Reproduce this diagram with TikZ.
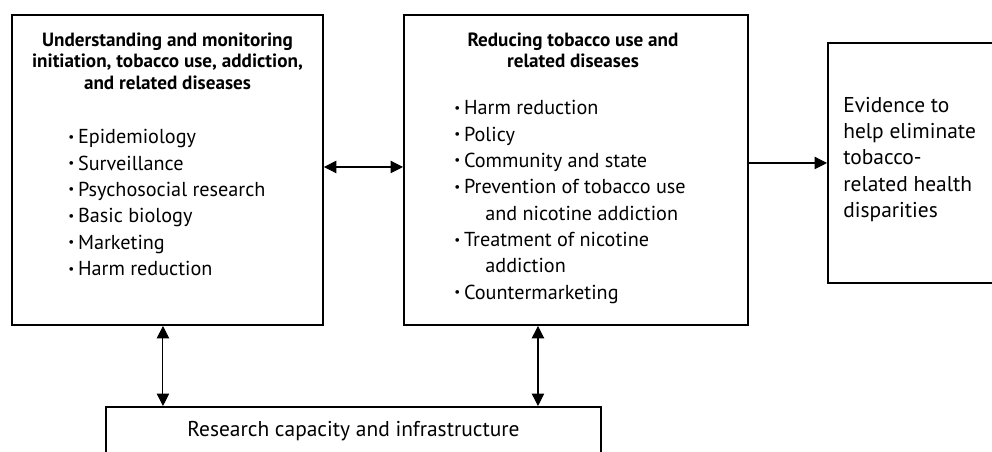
\documentclass[tikz,border=0pt]{standalone}
\usepackage{fontspec}
\setmainfont{PT Sans}
\usetikzlibrary{arrows.meta,positioning}
\tikzset{
  bigbox/.style   ={draw, line width=1.1pt, anchor=north west, inner sep=0pt},
  headtext/.style ={font=\fontsize{10.9}{12.2}\selectfont\bfseries, align=center, inner sep=0pt},
  listtext/.style ={font=\fontsize{11.5}{15}\selectfont, align=left, inner sep=0pt},
  evidtext/.style ={font=\fontsize{12.2}{15}\selectfont, align=left, inner sep=0pt},
  dblarr/.style   ={{Triangle[length=2.5mm,width=2.5mm]}-{Triangle[length=2.5mm,width=2.5mm]}, line width=0.6pt},
  arr/.style      ={-{Triangle[length=2.5mm,width=2.5mm]}, line width=0.6pt},
}
\newcommand{\bul}{\makebox[0.48em][l]{\raisebox{0.12em}{\fontsize{7.5}{7.5}\selectfont\textbullet}}}

\begin{document}
\begin{tikzpicture}
  \useasboundingbox (0,0) rectangle (19.84,-9.02);
  \clip (0,0) rectangle (19.84,-9.02);
  % boxes
  \node[bigbox, minimum width=6.22cm, minimum height=6.20cm] (undbox) at (0.22,-0.28) {};
  \node[bigbox, minimum width=6.88cm, minimum height=6.20cm] (redbox) at (8.06,-0.28) {};
  \node[bigbox, minimum width=3.60cm, minimum height=4.80cm] (evbox) at (16.54,-0.84) {};
  \node[bigbox, minimum width=9.90cm, minimum height=1.50cm] (resbox) at (2.10,-8.12) {};
  % texts
  \node[headtext, below=0.37cm of undbox.north] (undhead)
    {Understanding and monitoring\\initiation, tobacco use, addiction,\\and related diseases};
  \node[listtext, below right=2.30cm and 1.14cm of undbox.north west] (undlist)
    {\bul Epidemiology\\ \bul Surveillance\\ \bul Psychosocial research\\
     \bul Basic biology\\ \bul Marketing\\ \bul Harm reduction};
  \node[headtext, below=0.37cm of redbox.north, xshift=-0.06cm] (redhead)
    {Reducing tobacco use and\\related diseases};
  \node[listtext, below right=1.72cm and 1.02cm of redbox.north west] (redlist)
    {\bul Harm reduction\\ \bul Policy\\ \bul Community and state\\
     \bul Prevention of tobacco use\\ \hspace*{0.62cm}and nicotine addiction\\
     \bul Treatment of nicotine\\ \hspace*{0.62cm}addiction\\ \bul Countermarketing};
  \node[evidtext, below right=1.09cm and 0.32cm of evbox.north west] (evlabel)
    {Evidence to\\help eliminate\\tobacco-\\related health\\disparities};
  \node[evidtext, below=0.29cm of resbox.north] (reslabel)
    {Research capacity and infrastructure};
  % connectors
  \draw[dblarr] ([yshift=0.06cm]undbox.east) -- ([yshift=0.06cm]redbox.west);
  \draw[arr] (redbox.east |- evbox.west) -- (evbox.west);
  \draw[dblarr] ([xshift=-0.09cm]undbox.south) -- ([xshift=-0.09cm]undbox.south |- resbox.north);
  \draw[dblarr] ([xshift=-0.76cm]redbox.south) -- ([xshift=-0.76cm]redbox.south |- resbox.north);
\end{tikzpicture}
\end{document}
